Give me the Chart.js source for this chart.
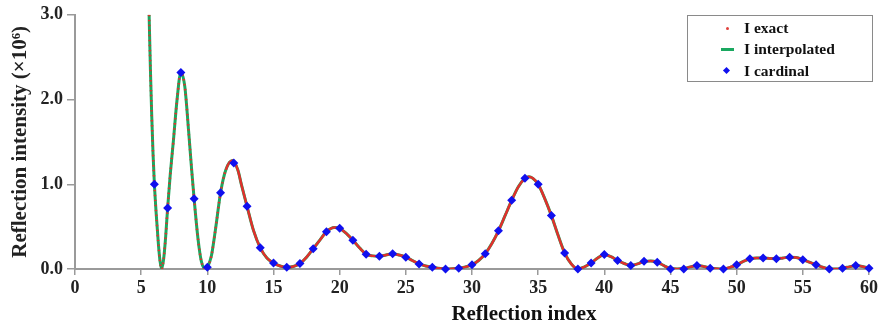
<!DOCTYPE html>
<html>
<head>
<meta charset="utf-8">
<script src="https://cdn.jsdelivr.net/npm/chart.js@4"></script>
<style>
  html, body { margin: 0; padding: 0; background: #fff; }
  #wrap { position: relative; width: 881px; height: 329px; }
  #legend { position: absolute; left: 687px; top: 15px; width: 186px; height: 67px;
    border: 1.5px solid #8a8a8a; box-sizing: border-box; font: bold 15.5px "Liberation Serif", "Times New Roman", serif; color: #111; }
  .row { position: absolute; left: 0; height: 20px; line-height: 20px; }
  .row span.t { position: absolute; left: 56px; white-space: nowrap; }
  .mk { position: absolute; }
  #xtitle { position: absolute; left: 0; top: 301px; width: 1048px; text-align: center;
    font: bold 21px "Liberation Serif", "Times New Roman", serif; color: #111; }
</style>
</head>
<body>
<div id="wrap">
  <canvas id="c" width="881" height="329"></canvas>
  <div id="legend">
    <div class="row" style="top:2px"><div class="mk" style="left:38px;top:9px;width:3px;height:3px;border-radius:50%;background:#e0413c"></div><span class="t">I exact</span></div>
    <div class="row" style="top:23px"><div class="mk" style="left:33px;top:9px;width:13px;height:3px;background:#1aa860"></div><span class="t">I interpolated</span></div>
    <div class="row" style="top:45px"><div class="mk" style="left:36px;top:7px;width:5px;height:5px;background:#1010ee;transform:rotate(45deg)"></div><span class="t">I cardinal</span></div>
  </div>
  <div id="xtitle">Reflection index</div>
</div>
<script>
// Cardinal samples (integer reflection index)
const cardinalX = [6,7,8,9,10,11,12,13,14,15,16,17,18,19,20,21,22,23,24,25,26,27,28,29,30,
  31,32,33,34,35,36,37,38,39,40,41,42,43,44,45,46,47,48,49,50,51,52,53,54,55,56,57,58,59,60];
const cardinalY = [1.00,0.72,2.32,0.83,0.02,0.90,1.25,0.74,0.25,0.07,0.02,0.065,0.24,0.44,0.48,0.34,0.175,0.15,0.18,0.14,0.06,0.02,0.00,0.01,0.05,
  0.18,0.45,0.81,1.07,1.00,0.63,0.19,0.00,0.07,0.17,0.10,0.04,0.09,0.08,0.00,0.00,0.04,0.01,0.00,0.05,0.12,0.13,0.12,0.14,0.11,0.05,0.00,0.01,0.04,0.01];

// Exact curve
const curveX = [5.6,5.7,5.8,5.9,6.0,6.15,6.3,6.42,6.54,6.7,6.85,7.0,7.2,7.44,7.7,8.0,8.3,8.6,8.8,9.0,9.3,9.55,9.85,
  10.0,10.3,10.6,11.0,11.4,11.9,12.3,12.6,13.0,13.5,14.0,14.5,15.0,15.5,16.0,16.5,17.0,17.5,18.0,18.5,19.0,19.6,20.0,20.5,
  21.0,21.5,22.0,22.5,23.0,23.5,24.0,24.5,25.0,25.5,26.0,26.5,27.0,27.5,28.0,28.5,29.0,29.5,30.0,30.5,31.0,31.5,32.0,32.5,
  33.0,33.5,34.0,34.3,34.6,35.0,35.5,36.0,36.5,37.0,37.5,38.0,38.5,39.0,39.5,40.0,40.5,41.0,41.5,42.0,42.5,43.0,43.5,44.0,
  44.5,45.0,45.5,46.0,46.5,47.0,47.5,48.0,48.5,49.0,49.5,50.0,50.5,51.0,51.5,52.0,52.5,53.0,53.5,54.0,54.5,55.0,55.5,56.0,
  56.5,57.0,57.5,58.0,58.5,59.0,59.5,60.0];
const exactY = [3.0,2.35,1.8,1.35,1.0,0.62,0.3,0.1,0.0,0.12,0.38,0.72,1.12,1.52,1.98,2.32,2.15,1.6,1.2,0.83,0.35,0.09,0.0,
  0.02,0.15,0.45,0.9,1.17,1.28,1.17,0.98,0.74,0.45,0.25,0.13,0.07,0.035,0.02,0.03,0.065,0.14,0.24,0.34,0.44,0.49,0.48,0.42,
  0.34,0.25,0.175,0.155,0.15,0.165,0.18,0.165,0.14,0.10,0.06,0.035,0.02,0.01,0.0,0.003,0.01,0.025,0.05,0.10,0.18,0.30,0.45,0.63,
  0.81,0.97,1.07,1.09,1.07,1.0,0.83,0.63,0.40,0.19,0.06,0.0,0.025,0.07,0.13,0.17,0.145,0.10,0.065,0.04,0.06,0.09,0.095,0.08,
  0.04,0.005,0.0,0.005,0.025,0.04,0.03,0.012,0.003,0.0,0.02,0.05,0.09,0.12,0.13,0.13,0.125,0.12,0.13,0.14,0.135,0.11,0.08,0.05,
  0.02,0.003,0.0,0.01,0.025,0.04,0.03,0.01];
const interpY = exactY.slice();

const xTicks = [0,5,10,15,20,25,30,35,40,45,50,55,60];
const yTicks = [0.0,1.0,2.0,3.0];

const pts = (xs, ys) => xs.map((x, i) => ({x, y: ys[i]}));
const serif = '"Liberation Serif", "Times New Roman", serif';

new Chart(document.getElementById('c'), {
  type: 'scatter',
  data: {
    datasets: [
      { label: 'I cardinal', data: pts(cardinalX, cardinalY), showLine: false,
        pointStyle: 'rectRot', pointRadius: 4.5, backgroundColor: '#1010ee', borderColor: '#1010ee', borderWidth: 0, clip: false },
      { label: 'I exact', data: pts(curveX, exactY), showLine: true, pointRadius: 0,
        borderColor: '#e0302c', borderWidth: 2.5, cubicInterpolationMode: 'monotone',
        segment: { borderDash: ctx => ctx.p0.parsed.x < 11.3 ? [1.5, 3.5] : undefined } },
      { label: 'I interpolated', data: pts(curveX, interpY), showLine: true, pointRadius: 0,
        borderColor: '#1aa860', borderWidth: 3, cubicInterpolationMode: 'monotone' }
    ]
  },
  options: {
    responsive: false, animation: false,
    layout: { padding: { top: 12, right: 6, left: 0, bottom: 0 } },
    plugins: { legend: { display: false }, tooltip: { enabled: false } },
    scales: {
      x: {
        type: 'linear', min: 0, max: 60,
        afterBuildTicks: s => { s.ticks = xTicks.map(v => ({value: v})); },
        afterFit: s => { s.height = 60; },
        grid: { drawOnChartArea: false, drawTicks: true, tickLength: 6, color: '#9a9a9a', lineWidth: 1.5 },
        border: { color: '#9a9a9a', width: 2 },
        ticks: { color: '#222', padding: 3, font: { family: serif, size: 18, weight: 'bold' }, maxRotation: 0 }
      },
      y: {
        min: 0, max: 3,
        afterBuildTicks: s => { s.ticks = yTicks.map(v => ({value: v})); },
        afterFit: s => { s.width = 75; },
        grid: { drawOnChartArea: false, drawTicks: true, tickLength: 8, color: '#9a9a9a', lineWidth: 1.5 },
        border: { color: '#9a9a9a', width: 2 },
        ticks: { color: '#222', padding: 4, font: { family: serif, size: 18, weight: 'bold' }, callback: v => v.toFixed(1) },
        title: { display: true, text: 'Reflection intensity (×10⁶)', color: '#222', padding: { top: 8, bottom: 2 },
          font: { family: serif, size: 21, weight: 'bold' } }
      }
    }
  }
});
</script>
</body>
</html>
